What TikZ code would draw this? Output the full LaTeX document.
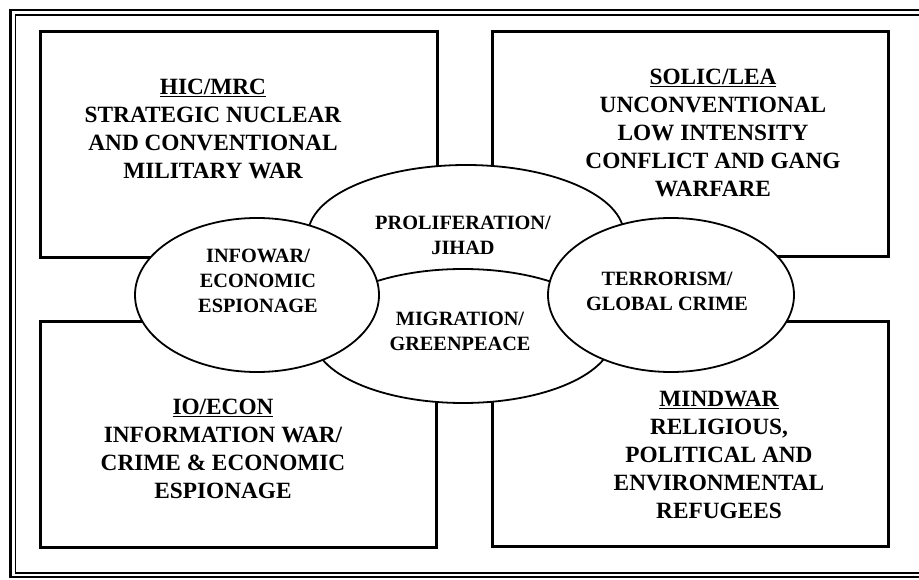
\documentclass[tikz,border=0pt]{standalone}
\usepackage{fontspec}
\setmainfont{Liberation Serif}
\usetikzlibrary{shapes.geometric}
\begin{document}
\begin{tikzpicture}[x=1pt,y=-1pt,
  quadrant/.style={draw, line width=3pt, rectangle, inner sep=0pt},
  zone/.style={draw, fill=white, line width=1.8pt, ellipse, inner sep=0pt},
  boxtext/.style={align=center, font=\fontsize{23.3}{28}\selectfont\bfseries},
  zonetext/.style={align=center, font=\fontsize{20.3}{25}\selectfont\bfseries}]
\useasboundingbox (0,0) rectangle (919,580);
\fill[white] (0,0) rectangle (919,580);

% double outer frame
\draw[line width=2.5pt] (10.5,10) rectangle (940,577);
\draw[line width=1.2pt] (15.5,15) rectangle (940,573);

% four quadrants
\node[quadrant, minimum width=397pt, minimum height=226pt] (hic)   at (238.5,145) {};
\node[quadrant, minimum width=396pt, minimum height=225pt] (solic) at (690,144.5) {};
\node[quadrant, minimum width=396pt, minimum height=225pt] (ioecon) at (238,434.5) {};
\node[quadrant, minimum width=396pt, minimum height=224pt] (mindwar) at (690,434) {};

% overlapping threat zones
\node[zone, minimum width=316pt, minimum height=140pt] (prolif)  at (466,235) {};
\node[zone, minimum width=300pt, minimum height=134pt] (migr)    at (463,336) {};
\node[zone, minimum width=244pt, minimum height=154pt] (infowar) at (257,295) {};
\node[zone, minimum width=246pt, minimum height=154pt] (terror)  at (671,295) {};

% quadrant texts
\node[boxtext] (hictext) at (213,129) {\underline{HIC/MRC}\\STRATEGIC NUCLEAR\\AND CONVENTIONAL\\MILITARY WAR};
\node[boxtext] (solictext) at (713,133) {\underline{SOLIC/LEA}\\UNCONVENTIONAL\\LOW INTENSITY\\CONFLICT AND GANG\\WARFARE};
\node[boxtext] (ioecontext) at (223,449) {\underline{IO/ECON}\\INFORMATION WAR/\\CRIME \& ECONOMIC\\ESPIONAGE};
\node[boxtext] (mindwartext) at (719,455) {\underline{MINDWAR}\\RELIGIOUS,\\POLITICAL AND\\ENVIRONMENTAL\\REFUGEES};

% zone texts
\node[zonetext] (proliftext) at (463,235) {PROLIFERATION/\\JIHAD};
\node[zonetext] (migrtext) at (460,331) {MIGRATION/\\GREENPEACE};
\node[zonetext] (infowartext) at (258,281) {INFOWAR/\\ECONOMIC\\ESPIONAGE};
\node[zonetext] (terrortext) at (667,291) {TERRORISM/\\GLOBAL CRIME};
\end{tikzpicture}
\end{document}
